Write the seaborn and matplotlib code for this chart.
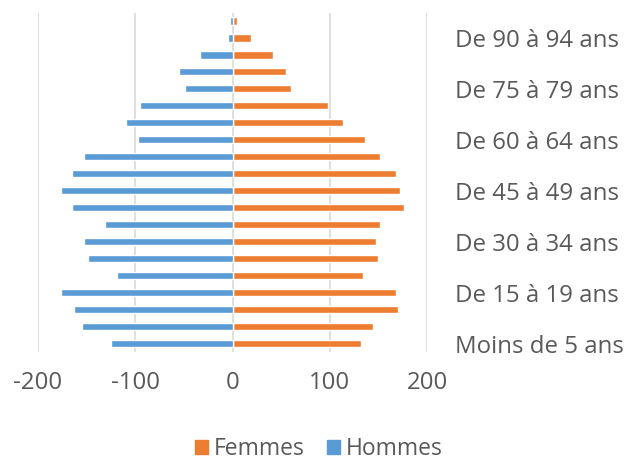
import matplotlib
matplotlib.use("Agg")
import matplotlib.pyplot as plt
import seaborn as sns
import pandas as pd
from matplotlib.patches import Patch

# Age groups from youngest to oldest
ages = ["Moins de 5 ans", "De 5 à 9 ans", "De 10 à 14 ans", "De 15 à 19 ans",
        "De 20 à 24 ans", "De 25 à 29 ans", "De 30 à 34 ans", "De 35 à 39 ans",
        "De 40 à 44 ans", "De 45 à 49 ans", "De 50 à 54 ans", "De 55 à 59 ans",
        "De 60 à 64 ans", "De 65 à 69 ans", "De 70 à 74 ans", "De 75 à 79 ans",
        "De 80 à 84 ans", "De 85 à 89 ans", "De 90 à 94 ans", "95 ans ou plus"]
femmes = [132, 144, 170, 168, 134, 150, 148, 152, 176, 172,
          168, 152, 136, 114, 98, 60, 55, 42, 19, 5]
hommes = [125, 155, 163, 176, 119, 149, 153, 131, 165, 176,
          165, 153, 97, 109, 95, 49, 55, 33, 5, 3]
series = ["Femmes", "Hommes"]
colors = ["#ED7D31", "#5B9BD5"]
xticks = [-200, -100, 0, 100, 200]
shown_labels = ["Moins de 5 ans", "De 15 à 19 ans", "De 30 à 34 ans", "De 45 à 49 ans",
                "De 60 à 64 ans", "De 75 à 79 ans", "De 90 à 94 ans"]

df = pd.DataFrame({
    "age": ages * 2,
    "valeur": femmes + [-h for h in hommes],
    "sexe": ["Femmes"] * len(ages) + ["Hommes"] * len(ages),
})

sns.set_theme(style="white")
plt.rcParams["font.family"] = ["Open Sans", "DejaVu Sans"]

fs = 17.3
fig = plt.figure(figsize=(6.38, 4.63), dpi=100)
ax = fig.add_axes([38 / 638, 1 - 352 / 463, (427 - 38) / 638, (352 - 12.5) / 463])

order = ages[::-1]
sns.barplot(data=df, x="valeur", y="age", hue="sexe", order=order,
            hue_order=series, palette=colors, dodge=False, width=0.42,
            orient="h", ax=ax, legend=False, saturation=1)

ax.set_xlim(-200, 200)
ax.set_ylim(len(ages) - 0.5, -0.5)
ax.set_xticks(xticks)
ax.set_xticklabels([str(t) for t in xticks])
ax.xaxis.grid(True, color="#D9D9D9", linewidth=1.2)
ax.set_axisbelow(True)
for s in ax.spines.values():
    s.set_visible(False)

ax.yaxis.tick_right()
ax.set_yticks([order.index(l) for l in shown_labels])
ax.set_yticklabels(shown_labels)
ax.tick_params(axis="y", length=0, pad=20, labelsize=fs, labelcolor="#595959")
ax.tick_params(axis="x", length=0, pad=14, labelsize=fs, labelcolor="#595959")
ax.set_xlabel("")
ax.set_ylabel("")

handles = [Patch(facecolor=c, edgecolor=c) for c in colors]
fig.legend(handles, series, loc="center", bbox_to_anchor=(0.5, 1 - 449 / 463),
           ncol=2, frameon=False, fontsize=16.5, labelcolor="#595959",
           handlelength=0.55, handleheight=0.55, handletextpad=0.25, columnspacing=1.0,
           borderpad=0, borderaxespad=0)

fig.savefig("out.png", dpi=100)
